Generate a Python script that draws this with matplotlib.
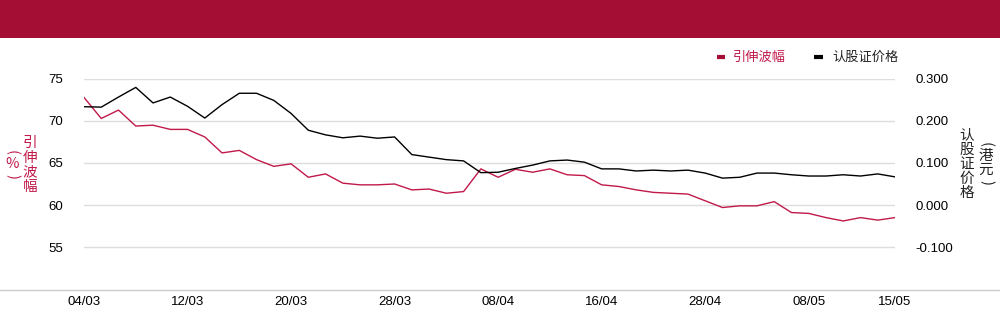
import matplotlib
matplotlib.use("Agg")
import matplotlib.pyplot as plt
from matplotlib.lines import Line2D
from matplotlib.patches import Rectangle

plt.rcParams['font.family'] = ['Noto Sans CJK SC', 'DejaVu Sans']

# ---- data ----
x_labels = ["04/03", "12/03", "20/03", "28/03", "08/04", "16/04", "28/04", "08/05", "15/05"]
x_label_idx = [0, 6, 12, 18, 24, 30, 36, 42, 47]

implied_vol = [72.8, 70.3, 71.3, 69.4, 69.5, 69.0, 69.0, 68.1, 66.2, 66.5,
               65.4, 64.6, 64.9, 63.3, 63.7, 62.6, 62.4, 62.4, 62.5, 61.8,
               61.9, 61.4, 61.6, 64.3, 63.3, 64.25, 63.9, 64.3, 63.6, 63.5,
               62.4, 62.2, 61.8, 61.5, 61.4, 61.3, 60.5, 59.7, 59.9, 59.9,
               60.4, 59.1, 59.0, 58.5, 58.1, 58.5, 58.2, 58.5]

warrant_price = [0.234, 0.233, 0.257, 0.280, 0.243, 0.257, 0.235, 0.207, 0.239, 0.266,
                 0.266, 0.249, 0.218, 0.178, 0.167, 0.160, 0.164, 0.159, 0.162, 0.120,
                 0.114, 0.108, 0.105, 0.077, 0.078, 0.087, 0.095, 0.105, 0.107, 0.102,
                 0.086, 0.086, 0.081, 0.083, 0.081, 0.083, 0.076, 0.064, 0.066, 0.076,
                 0.076, 0.072, 0.069, 0.069, 0.072, 0.069, 0.074, 0.067]

left_ticks = [55, 60, 65, 70, 75]
right_ticks = [-0.1, 0.0, 0.1, 0.2, 0.3]

RED = "#c0194a"
BANNER = "#a50e34"
GRID = "#dddddd"
DARK = "#222222"

fig = plt.figure(figsize=(10, 3.24), dpi=100)
W, H = 1000.0, 324.0

def fx(px):
    return px / W

def fy(py):
    return 1 - py / H

# banner
fig.add_artist(Rectangle((0, fy(38)), 1, 38 / H, transform=fig.transFigure,
                         facecolor=BANNER, edgecolor='none'))

ax = fig.add_axes([0.084, 0.108, 0.811, 0.6482])
xs = list(range(len(implied_vol)))
ax.plot(xs, implied_vol, color=RED, lw=1.0)
ax.set_xlim(0, len(xs) - 1)
ax.set_ylim(50, 75)
ax.set_yticks(left_ticks)
ax.set_yticklabels([str(t) for t in left_ticks], family=['Liberation Sans', 'DejaVu Sans'], fontsize=9.5)
ax.grid(axis='y', color=GRID, lw=1)
ax.set_axisbelow(True)
ax.set_xticks(x_label_idx)
ax.set_xticklabels(x_labels, family=['Liberation Sans Narrow', 'Liberation Sans', 'DejaVu Sans'], fontsize=9.5)
ax.tick_params(axis='both', length=0)
ax.tick_params(axis='y', pad=15)
ax.tick_params(axis='x', pad=5)
for s in ax.spines.values():
    s.set_visible(False)

ax2 = ax.twinx()
ax2.plot(xs, warrant_price, color='black', lw=1.0)
ax2.set_ylim(-0.2, 0.3)
ax2.set_yticks(right_ticks)
ax2.set_yticklabels([f"{t:.3f}" for t in right_ticks], family=['Liberation Sans', 'DejaVu Sans'], fontsize=9.5)
ax2.tick_params(axis='y', length=0, pad=15)
for s in ax2.spines.values():
    s.set_visible(False)

# bottom baseline across the figure
fig.add_artist(Line2D([0, 1], [fy(289.5)] * 2, transform=fig.transFigure, color="#cccccc", lw=1))

# legend
ly = fy(57)
fig.add_artist(Line2D([fx(717), fx(725)], [ly, ly], transform=fig.transFigure, color=BANNER, lw=3, solid_capstyle='butt'))
fig.text(fx(733), ly, "引伸波幅", color=RED, fontsize=9.5, va='center', ha='left')
fig.add_artist(Line2D([fx(814), fx(823)], [ly, ly], transform=fig.transFigure, color='black', lw=3, solid_capstyle='butt'))
fig.text(fx(832), ly, "认股证价格", color=DARK, fontsize=9.5, va='center', ha='left')

# left axis title
fig.text(fx(30), fy(165), "\n".join("引伸波幅"), color=RED, fontsize=10.5,
         ha='center', va='center', linespacing=1.05)
fig.text(fx(12), fy(152), "(", color=RED, fontsize=10.5, ha='center', va='center', rotation=-90)
fig.text(fx(12), fy(164), "%", color=RED, fontsize=10.5, ha='center', va='center')
fig.text(fx(12), fy(177), ")", color=RED, fontsize=10.5, ha='center', va='center', rotation=-90)

# right axis title
fig.text(fx(967), fy(164), "\n".join("认股证价格"), color=DARK, fontsize=10.5,
         ha='center', va='center', linespacing=1.05)
fig.text(fx(986), fy(144), "(", color=DARK, fontsize=10.5, ha='center', va='center', rotation=-90)
fig.text(fx(986), fy(156), "港", color=DARK, fontsize=10.5, ha='center', va='center')
fig.text(fx(986), fy(170), "元", color=DARK, fontsize=10.5, ha='center', va='center')
fig.text(fx(986), fy(182), ")", color=DARK, fontsize=10.5, ha='center', va='center', rotation=-90)

fig.savefig("out.png", dpi=100)
